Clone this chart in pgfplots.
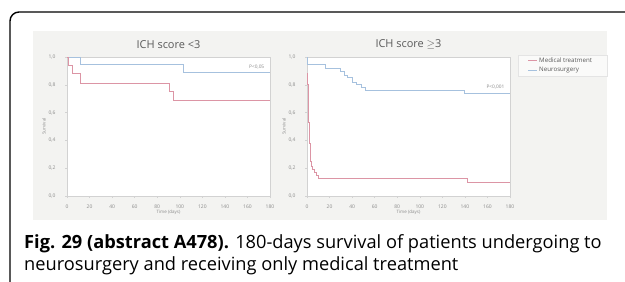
\documentclass[border=0pt]{standalone}
\usepackage{fontspec}
\setmainfont{Open Sans}
\usepackage{pgfplots}
\pgfplotsset{compat=1.18}
\definecolor{medred}{HTML}{DC95A5}
\definecolor{neublue}{HTML}{A6C1DE}
\definecolor{panel}{HTML}{F3F3F1}
\definecolor{axgray}{HTML}{D2D2D2}
\definecolor{ticktxt}{HTML}{8A8A8A}
\definecolor{titletxt}{HTML}{5A5A5A}
\pgfplotsset{
  kmstyle/.style={
    scale only axis, width=203bp, height=139bp,
    xmin=0, xmax=180, ymin=0, ymax=1,
    xtick={0,20,...,180}, ytick={0,0.2,0.4,0.6,0.8,1.0},
    /pgf/number format/.cd, use comma, fixed, fixed zerofill, precision=1, assume math mode=true, /pgfplots/.cd,
    xticklabel={\pgfmathprintnumber[fixed, precision=0]{\tick}},
    tick pos=left, tick align=outside, major tick length=2bp,
    axis line style={axgray, line width=0.6bp},
    every tick/.style={axgray, line width=0.5bp},
    tick label style={font=\fontsize{5}{6}\selectfont, text=ticktxt},
    yticklabel style={xshift=-6bp},
    xticklabel style={yshift=-3bp},
    axis background/.style={fill=white},
    title style={font=\fontsize{11}{12}\selectfont, text=titletxt, yshift=-1bp},
    xlabel={Time (days)}, ylabel={Survival},
    xlabel style={font=\fontsize{4.5}{5}\selectfont, text=ticktxt, yshift=5bp},
    ylabel style={font=\fontsize{4.5}{5}\selectfont, text=ticktxt, yshift=-4bp},
    clip=false,
  }
}
\begin{document}
\begin{tikzpicture}[x=1bp,y=1bp]
\useasboundingbox (0,0) rectangle (625,281);
\clip (0,0) rectangle (625,281);
\coordinate (LA) at (67,85);
\coordinate (RA) at (307,85);
% outer frame
\draw[line width=1.4bp, rounded corners=9bp] (10,-10) -- (10,269) -- (640,269);
% grey panel
\fill[panel] (33,61) rectangle (607,250);
% legend box
\filldraw[fill=white!60!panel, draw=axgray!60, line width=0.4bp] (518,205) rectangle (607,226);
\draw[medred, line width=0.8bp] (528,221) -- (537,221);
\node[anchor=west, inner sep=0pt, font=\fontsize{6.2}{7}\selectfont, text=titletxt] at (539,221) {Medical treatment};
\draw[neublue, line width=0.8bp] (528,211) -- (537,211);
\node[anchor=west, inner sep=0pt, font=\fontsize{6.2}{7}\selectfont, text=titletxt] at (539,211) {Neurosurgery};

\begin{axis}[kmstyle, at={(LA)}, anchor=south west, title={ICH score <3}]
\addplot[const plot, neublue, line width=0.8bp] coordinates {(0,1.0) (12,0.95) (103,0.89) (180,0.89)};
\addplot[const plot, medred, line width=0.8bp] coordinates {(0,1.0) (1,0.94) (5,0.88) (12,0.81) (91,0.75) (94,0.69) (180,0.69)};
\node[anchor=east, font=\fontsize{4.8}{5}\selectfont, text=ticktxt] at (axis cs:178,0.925) {P<0,05};
\end{axis}

\begin{axis}[kmstyle, at={(RA)}, anchor=south west, title={ICH score $\geq$3}]
\addplot[const plot, neublue, line width=0.8bp] coordinates {(0,1.0) (0.5,0.95) (16,0.92) (30,0.90) (33,0.87) (36,0.85) (40,0.82) (44,0.80) (48,0.78) (52,0.76) (139.5,0.74) (180,0.74)};
\addplot[const plot, medred, line width=0.8bp] coordinates {(0,0.88) (0.6,0.80) (1.0,0.65) (1.4,0.53) (1.8,0.46) (2.3,0.38) (2.8,0.31) (3.3,0.25) (3.8,0.21) (5,0.19) (6.5,0.17) (8,0.15) (10,0.13) (142,0.10) (180,0.10)};
\node[anchor=east, font=\fontsize{4.8}{5}\selectfont, text=ticktxt] at (axis cs:178,0.785) {P<0,001};
\end{axis}

% caption
\node[anchor=base west, inner sep=0pt, font=\fontsize{18.3}{22}\selectfont] at (24,33) {\textbf{Fig. 29 (abstract A478).} 180-days survival of patients undergoing to};
\node[anchor=base west, inner sep=0pt, font=\fontsize{18.3}{22}\selectfont] at (24,11) {neurosurgery and receiving only medical treatment};
\end{tikzpicture}
\end{document}
